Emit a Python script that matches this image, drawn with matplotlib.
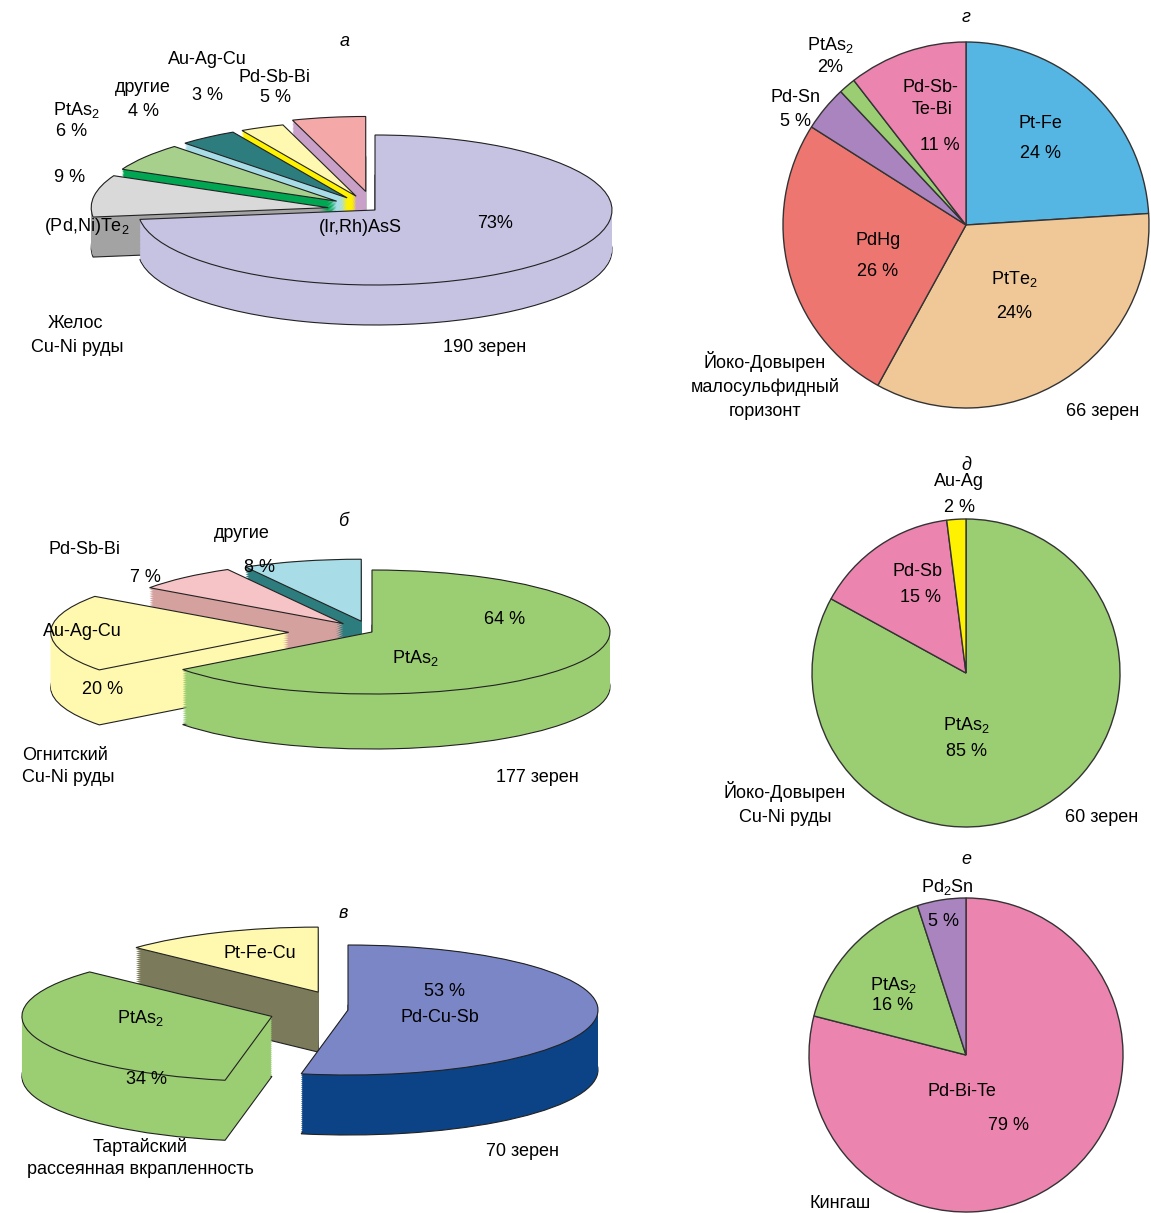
import matplotlib.pyplot as plt

plt.rcParams['font.family'] = ['Liberation Sans', 'DejaVu Sans']
plt.rcParams['mathtext.default'] = 'regular'

W, H = 1151, 1213

# --- data ---
a_labels = ["(Ir,Rh)AsS", "(Pd,Ni)Te2", "PtAs2", "другие", "Au-Ag-Cu", "Pd-Sb-Bi"]
a_values = [73, 9, 6, 4, 3, 5]
b_labels = ["PtAs2", "Au-Ag-Cu", "Pd-Sb-Bi", "другие"]
b_values = [64, 20, 7, 8]
c_labels = ["Pd-Cu-Sb", "PtAs2", "Pt-Fe-Cu"]
c_values = [53, 34, 13]
g_labels = ["Pt-Fe", "PtTe2", "PdHg", "Pd-Sn", "PtAs2", "Pd-Sb-Te-Bi"]
g_values = [24, 34, 26, 4, 1.5, 10.5]
d_labels = ["PtAs2", "Pd-Sb", "Au-Ag"]
d_values = [83, 15, 2]
e_labels = ["Pd-Bi-Te", "PtAs2", "Pd2Sn"]
e_values = [79, 16, 5]

fig = plt.figure(figsize=(W / 100, H / 100), dpi=100)


def pie3d(cx, cy, rx, ry, depth, values, tops, sides, explode):
    ax = fig.add_axes([(cx - 2 * rx) / W, 1 - (cy + 2 * ry) / H, 4 * rx / W, 4 * ry / H])
    d = depth / ry
    n = 30
    for k in range(n + 1):
        off = d * (1 - k / n)
        ax.pie(values, colors=sides, explode=explode, startangle=90, counterclock=False,
               center=(0, -off),
               wedgeprops=dict(linewidth=0.8 if k == 0 else 0, edgecolor='#222222'))
    ax.pie(values, colors=tops, explode=explode, startangle=90, counterclock=False,
           wedgeprops=dict(linewidth=0.8, edgecolor='#222222'))
    ax.set_aspect('auto')
    ax.set_xlim(-2, 2)
    ax.set_ylim(-2, 2)
    ax.axis('off')


def pie2d(cx, cy, r, values, colors):
    ax = fig.add_axes([(cx - r) / W, 1 - (cy + r) / H, 2 * r / W, 2 * r / H])
    ax.pie(values, colors=colors, startangle=90, counterclock=False,
           wedgeprops=dict(linewidth=1, edgecolor='#333333'))
    ax.set_xlim(-1, 1)
    ax.set_ylim(-1, 1)
    ax.axis('off')


pie3d(375, 210, 237, 75, 40, a_values,
      ['#C6C3E2', '#D9D9D9', '#A8D08D', '#2E7D7E', '#FFF8B0', '#F4A9A8'],
      ['#C6C3E2', '#A3A3A3', '#00A651', '#A8DDE8', '#FFF200', '#C9A0C8'],
      [0, 0.2, 0.2, 0.2, 0.2, 0.25])
pie3d(372, 632, 238, 62, 55, b_values,
      ['#9BCD73', '#FFF9B0', '#F6C3C6', '#A8DDE8'],
      ['#9BCD73', '#FFF9B0', '#D4A19E', '#2E7D7E'],
      [0, 0.35, 0.18, 0.18])
pie3d(348, 1010, 250, 65, 60, c_values,
      ['#7B86C6', '#9BCD73', '#FFF9B0'],
      ['#0B4386', '#9BCD73', '#7B7B5B'],
      [0, 0.32, 0.3])

pie2d(966, 225, 183, g_values,
      ['#55B6E4', '#F0C898', '#EE7670', '#A984BE', '#9BCD73', '#EC84B0'])
pie2d(966, 673, 154, d_values, ['#9BCD73', '#EC84B0', '#FFF200'])
pie2d(966, 1055, 157, e_values, ['#EC84B0', '#9BCD73', '#A984BE'])


def txt(x, y, s, **kw):
    kw.setdefault('fontsize', 13)
    fig.text(x / W, 1 - y / H, s, ha='center', va='center', **kw)


for x, y, s in [(345, 42, 'а'), (343, 522, 'б'), (343, 913, 'в'),
                (966, 18, 'г'), (966, 465, 'д'), (966, 860, 'е')]:
    txt(x, y, s, style='italic')

# a
txt(207, 60, 'Au-Ag-Cu'); txt(207, 95, '3 %')
txt(275, 77, 'Pd-Sb-Bi'); txt(275, 98, '5 %')
txt(143, 88, 'другие'); txt(143, 111, '4 %')
txt(76, 110, 'PtAs$_2$'); txt(72, 131, '6 %')
txt(70, 177, '9 %'); txt(87, 226, '(Pd,Ni)Te$_2$')
txt(360, 228, '(Ir,Rh)AsS'); txt(495, 224, '73%')
txt(75, 323, 'Желос'); txt(77, 347, 'Cu-Ni руды')
txt(485, 348, '190 зерен')
# b
txt(242, 534, 'другие'); txt(260, 567, '8 %')
txt(85, 550, 'Pd-Sb-Bi'); txt(145, 577, '7 %')
txt(82, 632, 'Au-Ag-Cu'); txt(103, 690, '20 %')
txt(415, 658, 'PtAs$_2$'); txt(505, 620, '64 %')
txt(65, 755, 'Огнитский'); txt(68, 778, 'Cu-Ni руды')
txt(537, 778, '177 зерен')
# c
txt(260, 954, 'Pt-Fe-Cu')
txt(140, 1018, 'PtAs$_2$'); txt(147, 1080, '34 %')
txt(445, 992, '53 %'); txt(440, 1018, 'Pd-Cu-Sb')
txt(140, 1147, 'Тартайский'); txt(140, 1169, 'рассеянная вкрапленность')
txt(522, 1152, '70 зерен')
# g
txt(830, 45, 'PtAs$_2$'); txt(830, 68, '2%')
txt(795, 97, 'Pd-Sn'); txt(795, 121, '5 %')
txt(930, 87, 'Pd-Sb-'); txt(932, 110, 'Te-Bi'); txt(940, 146, '11 %')
txt(1040, 124, 'Pt-Fe'); txt(1040, 153, '24 %')
txt(1014, 279, 'PtTe$_2$'); txt(1014, 313, '24%')
txt(878, 241, 'PdHg'); txt(878, 272, '26 %')
txt(765, 362, 'Йоко-Довырен'); txt(765, 387, 'малосульфидный'); txt(765, 411, 'горизонт')
txt(1103, 411, '66 зерен')
# d
txt(959, 482, 'Au-Ag'); txt(959, 507, '2 %')
txt(917, 572, 'Pd-Sb'); txt(920, 597, '15 %')
txt(966, 725, 'PtAs$_2$'); txt(966, 752, '85 %')
txt(785, 791, 'Йоко-Довырен'); txt(785, 817, 'Cu-Ni руды')
txt(1102, 817, '60 зерен')
# e
txt(947, 887, 'Pd$_2$Sn'); txt(944, 921, '5 %')
txt(893, 985, 'PtAs$_2$'); txt(893, 1006, '16 %')
txt(962, 1092, 'Pd-Bi-Te'); txt(1008, 1125, '79 %')
txt(840, 1203, 'Кингаш')

fig.savefig('out.png', dpi=100)
